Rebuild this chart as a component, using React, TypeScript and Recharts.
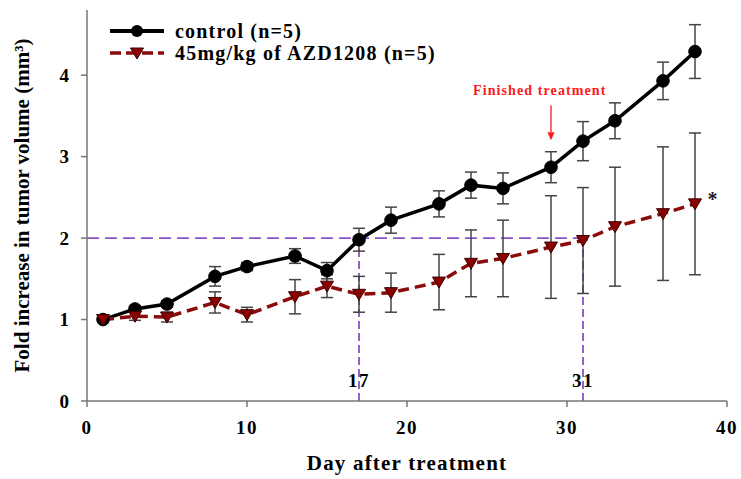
import React from 'react';
import {
  LineChart, Line, XAxis, YAxis, ErrorBar, ReferenceLine, ReferenceDot, Legend,
} from 'recharts';

const FONT = '"Liberation Serif", "Times New Roman", serif';

const days = [1, 3, 5, 8, 10, 13, 15, 17, 19, 22, 24, 26, 29, 31, 33, 36, 38];
const controlMean = [1.0, 1.13, 1.19, 1.53, 1.65, 1.78, 1.6, 1.98, 2.22, 2.42, 2.65, 2.61, 2.87, 3.19, 3.44, 3.93, 4.29];
const controlErr = [0.02, 0.04, 0.04, 0.12, 0.05, 0.09, 0.1, 0.14, 0.16, 0.16, 0.16, 0.19, 0.19, 0.24, 0.22, 0.23, 0.33];
const treatMean = [1.0, 1.04, 1.03, 1.21, 1.06, 1.28, 1.41, 1.31, 1.33, 1.46, 1.69, 1.75, 1.89, 1.97, 2.14, 2.3, 2.42];
const treatErr = [0.02, 0.05, 0.06, 0.13, 0.09, 0.21, 0.14, 0.22, 0.24, 0.34, 0.41, 0.47, 0.63, 0.65, 0.73, 0.82, 0.87];

const xTicks = [0, 10, 20, 30, 40];
const yTicks = [0, 1, 2, 3, 4];
const seriesKeys = ['control', 'treat'];
const seriesNames = ['control (n=5)', '45mg/kg of AZD1208 (n=5)'];
const xTitle = 'Day after treatment';
const yTitle = 'Fold increase in tumor volume (mm³)';
const noteText = 'Finished  treatment';
const crossDays = [17, 31];
const treatmentEndDay = 29;
const threshold = 2;

const data = days.map((d, i) => ({
  day: d,
  control: controlMean[i],
  cErr: controlErr[i],
  treat: treatMean[i],
  tErr: treatErr[i],
}));

const RED = '#8b0a0a';
const PURPLE = '#8a52c4';
const AXIS = '#777';

const CircleDot = (p: any) => (
  <circle key={`c-${p.index}`} cx={p.cx} cy={p.cy} r={6.3} fill="#000" stroke="#000" strokeWidth={1} />
);
const TriDot = (p: any) => (
  <path
    key={`t-${p.index}`}
    d={`M${p.cx - 6.5},${p.cy - 5} L${p.cx + 6.5},${p.cy - 5} L${p.cx},${p.cy + 6} Z`}
    fill="#8b0000"
    stroke="#3a0000"
    strokeWidth={1}
  />
);

const renderLegend = (props: any) => {
  const payload = [...(props.payload || [])].sort(
    (a: any, b: any) => seriesKeys.indexOf(a.dataKey) - seriesKeys.indexOf(b.dataKey),
  );
  return (
    <div style={{ fontFamily: FONT, fontWeight: 'bold', fontSize: 20, letterSpacing: 1.2, color: '#000' }}>
      {payload.map((entry: any, i: number) => (
        <div key={i} style={{ display: 'flex', alignItems: 'center', height: 22, whiteSpace: 'nowrap' }}>
          <svg width={54} height={22} style={{ flex: 'none' }}>
            {entry.dataKey === 'control' ? (
              <g>
                <line x1={0} y1={11} x2={54} y2={11} stroke="#000" strokeWidth={4} />
                <circle cx={27} cy={11} r={6} fill="#000" />
              </g>
            ) : (
              <g>
                <line x1={0} y1={11} x2={54} y2={11} stroke={RED} strokeWidth={3.5} strokeDasharray="11 5" />
                <path d="M20.5,6 L33.5,6 L27,17 Z" fill="#8b0000" stroke="#3a0000" strokeWidth={1} />
              </g>
            )}
          </svg>
          <span style={{ marginLeft: 11 }}>{entry.value}</span>
        </div>
      ))}
    </div>
  );
};

const tickStyle = { fill: '#000', fontSize: 19, fontWeight: 'bold', fontFamily: FONT };

export default function App() {
  return (
    <div style={{ position: 'absolute', left: 0, top: 0, width: 741, height: 479, background: '#fff' }}>
      <LineChart width={741} height={479} data={data} margin={{ top: 10, right: 14, left: 5, bottom: 38 }}>
        <XAxis
          type="number"
          dataKey="day"
          domain={[0, 40]}
          ticks={xTicks}
          tickSize={6}
          tickMargin={14}
          height={40}
          stroke={AXIS}
          strokeWidth={1.5}
          tick={{ ...tickStyle, letterSpacing: 1.5 }}
          label={{ value: xTitle, position: 'bottom', offset: 14, fill: '#000', fontSize: 21, fontWeight: 'bold', fontFamily: FONT, letterSpacing: 1.2 }}
        />
        <YAxis
          type="number"
          domain={[0, 4.8]}
          ticks={yTicks}
          tickSize={6}
          tickMargin={12}
          width={82}
          stroke={AXIS}
          strokeWidth={1.5}
          tick={tickStyle}
          label={{ value: yTitle, angle: -90, position: 'insideLeft', offset: 17, fill: '#000', fontSize: 21, fontWeight: 'bold', fontFamily: FONT, style: { textAnchor: 'middle' } }}
        />
        <ReferenceLine segment={[{ x: 0, y: threshold }, { x: crossDays[1], y: threshold }]} stroke={PURPLE} strokeWidth={1.6} strokeDasharray="12 6" />
        <ReferenceLine segment={[{ x: crossDays[0], y: 0 }, { x: crossDays[0], y: threshold }]} stroke={PURPLE} strokeWidth={1.8} strokeDasharray="8 4" />
        <ReferenceLine segment={[{ x: crossDays[1], y: 0 }, { x: crossDays[1], y: threshold }]} stroke={PURPLE} strokeWidth={1.8} strokeDasharray="8 4" />
        {crossDays.map((d) => (
          <ReferenceDot
            key={d}
            x={d}
            y={0.26}
            r={0}
            fill="none"
            stroke="none"
            label={{ value: String(d), position: 'center', fill: '#000', fontSize: 19, fontWeight: 'bold', fontFamily: FONT, letterSpacing: 1.5 }}
          />
        ))}
        <ReferenceLine segment={[{ x: treatmentEndDay, y: 3.63 }, { x: treatmentEndDay, y: 3.3 }]} stroke="#ff1a1a" strokeWidth={1.3} />
        <ReferenceDot
          x={treatmentEndDay}
          y={3.2}
          r={1}
          shape={(p: any) => (
            <path d={`M${p.cx - 3.5},${p.cy - 8} L${p.cx + 3.5},${p.cy - 8} L${p.cx},${p.cy} Z`} fill="#ff1a1a" />
          )}
        />
        <ReferenceDot
          x={28.3}
          y={3.82}
          r={0}
          fill="none"
          stroke="none"
          label={{ value: noteText, position: 'center', fill: '#ff1a1a', fontSize: 14, fontWeight: 'bold', fontFamily: FONT, letterSpacing: 1.1 }}
        />
        <ReferenceDot
          x={39.1}
          y={2.48}
          r={0}
          fill="none"
          stroke="none"
          label={{ value: '*', position: 'center', fill: '#1a1a33', fontSize: 20, fontWeight: 'bold', fontFamily: FONT }}
        />
        <Line
          type="linear"
          dataKey="control"
          name={seriesNames[0]}
          stroke="#000"
          strokeWidth={3.5}
          dot={CircleDot}
          activeDot={false}
          isAnimationActive={false}
        >
          <ErrorBar dataKey="cErr" direction="y" width={6} stroke="#444" strokeWidth={1.5} />
        </Line>
        <Line
          type="linear"
          dataKey="treat"
          name={seriesNames[1]}
          stroke={RED}
          strokeWidth={3.5}
          strokeDasharray="11 6"
          dot={TriDot}
          activeDot={false}
          isAnimationActive={false}
        >
          <ErrorBar dataKey="tErr" direction="y" width={6} stroke="#444" strokeWidth={1.5} />
        </Line>
        <Legend
          layout="vertical"
          align="center"
          verticalAlign="middle"
          content={renderLegend}
          wrapperStyle={{ left: 110, top: 20, width: 420 }}
        />
      </LineChart>
    </div>
  );
}
